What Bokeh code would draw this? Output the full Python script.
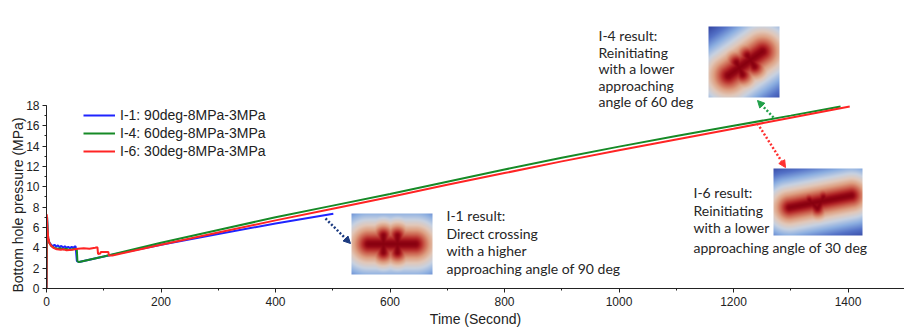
import numpy as np
from bokeh.plotting import figure
from bokeh.models import (Range1d, SingleIntervalTicker, Legend, LegendItem,
                          Arrow, NormalHead, Title)
from bokeh.core.properties import value
from bokeh.embed import file_html
from bokeh.resources import INLINE

# ---------------- data ----------------
t_i1 = [0, 1, 2, 3, 5, 8, 11, 14, 17, 20, 23, 26, 29, 32, 35, 38, 41, 44, 47, 50, 51, 53, 57,
        100, 200, 300, 400, 501]
p_i1 = [0, 7.0, 5.6, 4.9, 4.5, 4.3, 4.15, 4.3, 4.1, 4.25, 4.05, 4.2, 4.0, 4.15, 4.0, 4.1, 3.95,
        4.1, 4.0, 4.15, 4.1, 2.7, 2.6, 3.15, 4.3, 5.35, 6.4, 7.35]

t_i4 = [0, 1, 2, 3, 5, 8, 12, 16, 20, 25, 30, 35, 40, 45, 50, 53, 54, 57,
        100, 200, 300, 400, 500, 600, 700, 800, 900, 1000, 1100, 1200, 1300, 1387]
p_i4 = [0, 7.0, 5.6, 4.9, 4.5, 4.2, 4.05, 3.95, 3.9, 3.95, 3.85, 3.9, 3.8, 3.85, 3.9, 3.8, 2.7, 2.6,
        3.15, 4.5, 5.75, 7.0, 8.15, 9.3, 10.5, 11.7, 12.85, 13.95, 15.0, 16.0, 17.0, 17.9]

t_i6 = [0, 0.5, 1.5, 3, 5, 8, 12, 18, 25, 30, 35, 45, 50, 55, 65, 75, 85, 89, 90, 94, 95, 108, 109, 115,
        200, 300, 400, 500, 600, 700, 800, 900, 1000, 1100, 1200, 1300, 1403]
p_i6 = [0, 7.3, 6.0, 5.0, 4.5, 4.2, 4.0, 3.85, 3.8, 3.85, 3.75, 3.8, 3.85, 3.9, 3.95, 3.9, 4.0, 4.05,
        3.4, 3.45, 3.6, 3.6, 3.25, 3.25,
        4.3, 5.5, 6.7, 7.85, 9.0, 10.2, 11.35, 12.5, 13.6, 14.65, 15.7, 16.8, 17.9]

labels = ["I-1: 90deg-8MPa-3MPa", "I-4: 60deg-8MPa-3MPa", "I-6: 30deg-8MPa-3MPa"]
colors = ["#1f24ff", "#168a26", "#ff2424"]

note_i1 = ["I-1 result:", "Direct crossing", "with a higher", "approaching angle of 90 deg"]
note_i4 = ["I-4 result:", "Reinitiating", "with a lower", "approaching", "angle of 60 deg"]
note_i6 = ["I-6 result:", "Reinitiating", "with a lower", "approaching angle of 30 deg"]

# ---------------- layout helpers (pixel -> data) ----------------
W, H = 904, 331
X0PX, XS = 46, 0.5725
Y0PX, YS = 288, 10.17


def dx(px):
    return (px - X0PX) / XS


def dy(py):
    return (Y0PX - py) / YS


p = figure(width=W, height=H, output_backend="svg", toolbar_location=None,
           x_range=Range1d(0, dx(W)), y_range=Range1d(0, dy(0)),
           min_border_left=X0PX, min_border_right=0, min_border_top=0,
           min_border_bottom=H - Y0PX)
p.outline_line_color = None
p.xgrid.visible = False
p.ygrid.visible = False
p.background_fill_color = "white"
p.border_fill_color = "white"

p.xaxis.ticker = SingleIntervalTicker(interval=200, num_minor_ticks=2)
p.yaxis.ticker = SingleIntervalTicker(interval=2, num_minor_ticks=2)
p.yaxis.bounds = (0, 18)
for ax in (p.xaxis[0], p.yaxis[0]):
    ax.axis_line_color = "#222222"
    ax.major_tick_line_color = "#222222"
    ax.minor_tick_line_color = "#222222"
    ax.major_tick_in = 0
    ax.major_tick_out = 4
    ax.minor_tick_in = 0
    ax.minor_tick_out = 2
    ax.major_label_text_font = "Liberation Sans"
    ax.major_label_text_font_size = "12px"
    ax.major_label_text_color = "#222222"
    ax.major_label_standoff = 4
    ax.axis_label_text_font = "Liberation Sans"
    ax.axis_label_text_font_size = "14px"
    ax.axis_label_text_font_style = "normal"
    ax.axis_label_text_color = "#222222"
p.yaxis.major_label_standoff = 3
p.xaxis.axis_label = "Time (Second)"
p.xaxis.axis_label_standoff = 2

ytitle = Title(text="Bottom hole pressure (MPa)", align="left", offset=-4, standoff=-4,
               text_font="Liberation Sans", text_font_size="14px", text_font_style="normal",
               text_color="#222222")
p.add_layout(ytitle, "left")

# ---------------- series ----------------
rs = []
for t, v, c in zip([t_i1, t_i4, t_i6], [p_i1, p_i4, p_i6], colors):
    rs.append(p.line(t, v, line_color=c, line_width=2))
legend = Legend(items=[LegendItem(label=l, renderers=[r]) for l, r in zip(labels, rs)],
                location=(37, 128), border_line_color=None, background_fill_alpha=0,
                label_text_font="Liberation Sans", label_text_font_size="14px",
                label_text_color="#222222", glyph_width=32, glyph_height=18,
                label_height=18, spacing=0, padding=0, margin=0, label_standoff=5)
p.add_layout(legend)


# ---------------- inset images ----------------
def seg_dist(xx, yy, segs):
    d = np.full(xx.shape, 1e9)
    for (x0, y0, x1, y1) in segs:
        vx, vy = x1 - x0, y1 - y0
        L2 = vx * vx + vy * vy
        tt = np.clip(((xx - x0) * vx + (yy - y0) * vy) / L2, 0, 1)
        px_, py_ = x0 + tt * vx, y0 + tt * vy
        d = np.minimum(d, np.hypot(xx - px_, yy - py_))
    return d


STOP_D = [0, 2.5, 5, 8.5, 12.5, 17, 22, 28, 35, 45]
STOP_R = [135, 150, 180, 205, 222, 226, 200, 140, 85, 45]
STOP_G = [0, 8, 40, 100, 160, 200, 210, 175, 115, 60]
STOP_B = [15, 22, 40, 80, 130, 185, 225, 225, 200, 155]


def make_img(w, h, main, extra, k=1.0):
    yy, xx = np.mgrid[0:h, 0:w] + 0.5
    d_main = seg_dist(xx, yy, main)
    f = d_main
    if extra:
        d_x = seg_dist(xx, yy, extra)
        f = np.minimum(d_main, d_x * 1.4)
    f = f * k
    r = np.interp(f, STOP_D, STOP_R)
    g = np.interp(f, STOP_D, STOP_G)
    b = np.interp(f, STOP_D, STOP_B)
    img = np.empty((h, w), dtype=np.uint32)
    v = img.view(dtype=np.uint8).reshape((h, w, 4))
    v[:, :, 0] = r.astype(np.uint8)
    v[:, :, 1] = g.astype(np.uint8)
    v[:, :, 2] = b.astype(np.uint8)
    v[:, :, 3] = 255
    return img[::-1]


def put_img(box, main, extra, k=1.0):
    l, t, r, b = box
    w, h = r - l, b - t
    img = make_img(w, h, main, extra, k)
    p.image_rgba(image=[img], x=dx(l), y=dy(b), dw=w / XS, dh=h / YS)


put_img((351, 213, 432, 274),
        [(17, 30.5, 64, 30.5)], [(32, 22, 32, 39), (46, 22, 46, 39)], 0.9)
put_img((708, 26, 779, 97),
        [(20, 49, 54, 25)], [(28, 36, 34, 48), (39, 29, 46, 40)], 0.85)
put_img((773, 168, 862, 235),
        [(16, 39, 78, 27)], [(36, 32, 44, 40), (44, 40, 50, 29)], 1.0)


# ---------------- arrows ----------------
def arrow(x0, y0, x1, y1, c):
    p.add_layout(Arrow(end=NormalHead(size=7, fill_color=c, line_color=c),
                       x_start=dx(x0), y_start=dy(y0), x_end=dx(x1), y_end=dy(y1),
                       line_color=c, line_width=2.5, line_dash="2 2"))


arrow(325, 218, 350, 243, "#1c3b80")
arrow(773, 117, 757, 100, "#22a04a")
arrow(757, 123, 785, 167, "#ff3030")


# ---------------- notes ----------------
def note(lines, x, ys):
    p.text(x=[dx(x)] * len(lines), y=[dy(v) for v in ys], text=lines,
           text_font=value("Lato"), text_font_size="14px", text_color="#262626",
           text_baseline="middle", text_align="left")


note(note_i1, 446, [215, 232.5, 250, 267.5])
note(note_i4, 598, [35, 51.5, 68, 84.5, 101])
note(note_i6, 693, [191.5, 209.5, 227, 246.5])

open("out.html", "w").write(file_html(p, INLINE))
